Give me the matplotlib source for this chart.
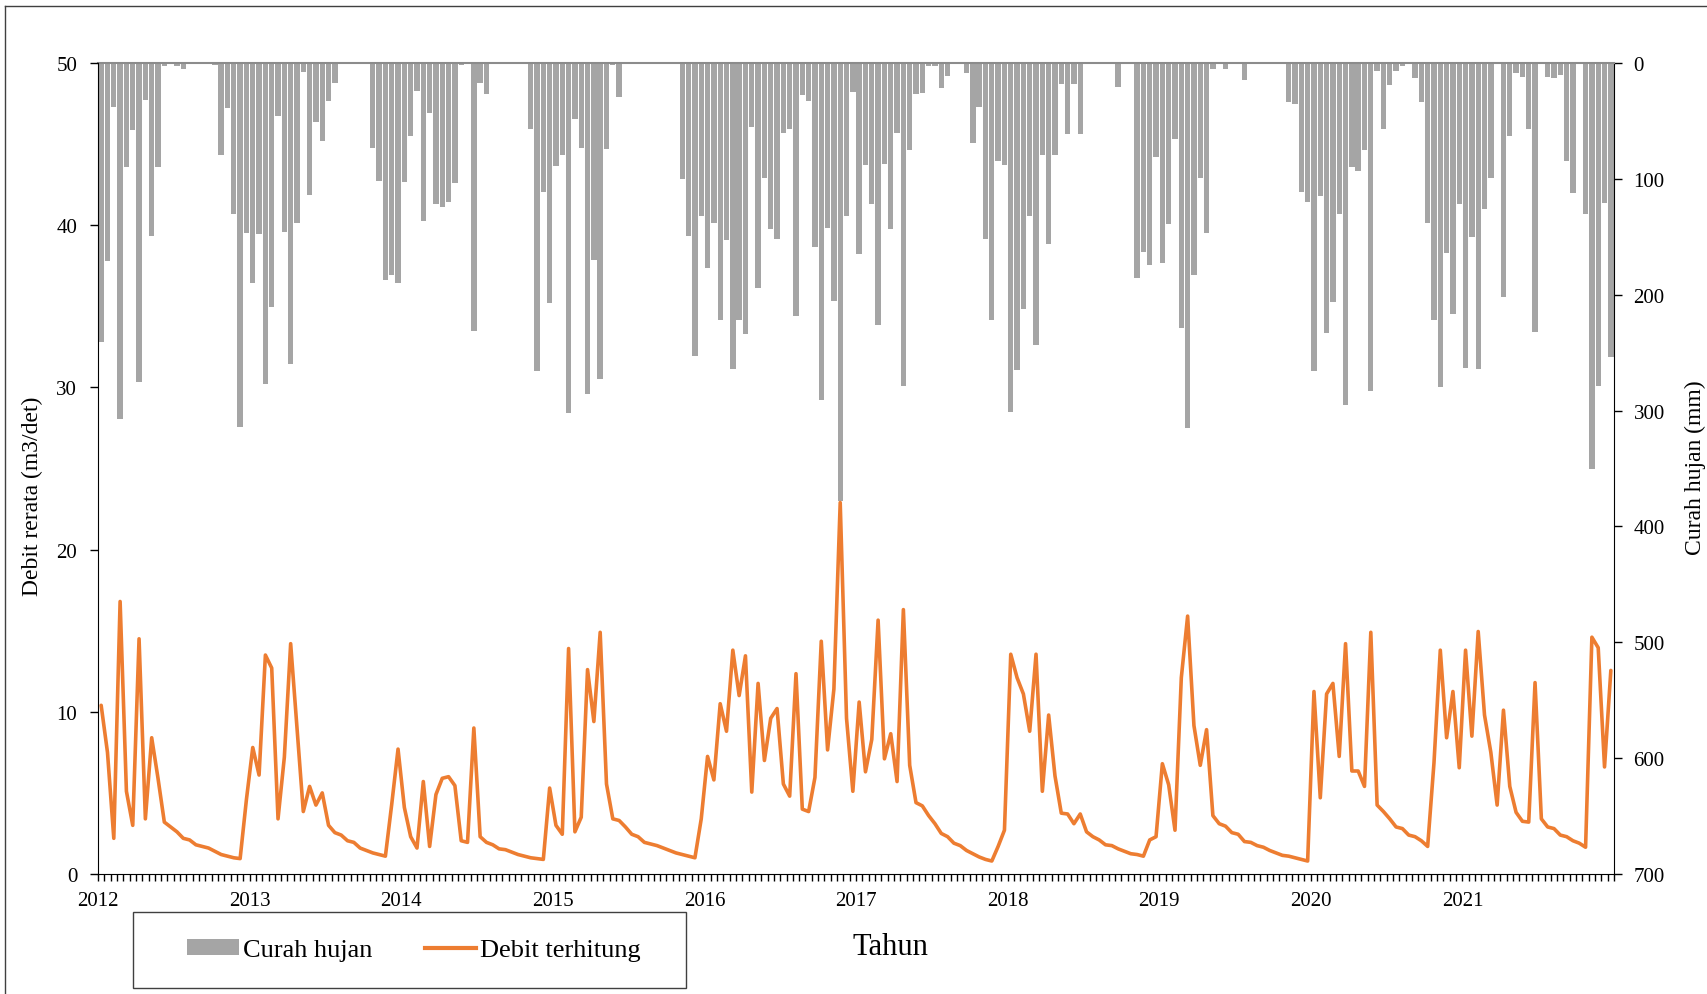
import matplotlib
matplotlib.use('Agg')
import matplotlib.pyplot as plt
import numpy as np
from matplotlib.patches import Rectangle, Patch
from matplotlib.lines import Line2D

plt.rcParams['font.family'] = ['Liberation Serif', 'DejaVu Serif']

years = ['2012', '2013', '2014', '2015', '2016', '2017', '2018', '2019', '2020', '2021']

# semi-monthly rainfall (mm), 24 values per year
rain_mm = [
    241, 171, 38, 307, 90, 58, 275, 32, 149, 90, 3, 1, 3, 5, 1, 1, 1, 1, 2, 79, 39, 130, 314, 147,        # 2012
    190, 148, 277, 211, 46, 146, 260, 138, 8, 114, 51, 67, 33, 17, 0, 0, 0, 0, 0, 73, 102, 187, 183, 190,  # 2013
    103, 63, 24, 136, 43, 122, 124, 120, 104, 2, 1, 231, 17, 27, 0, 0, 0, 0, 0, 0, 57, 266, 111, 207,      # 2014
    89, 79, 302, 48, 73, 286, 170, 273, 74, 2, 29, 0, 0, 0, 0, 0, 0, 0, 0, 0, 100, 149, 253, 132,          # 2015
    177, 138, 222, 153, 264, 222, 234, 55, 194, 99, 143, 152, 60, 57, 218, 28, 33, 159, 291, 142, 205, 378, 132, 25,  # 2016
    165, 88, 122, 226, 87, 143, 60, 279, 75, 27, 26, 3, 3, 22, 11, 0, 0, 9, 69, 38, 152, 222, 85, 88,      # 2017
    301, 265, 212, 132, 243, 79, 156, 79, 18, 61, 18, 61, 0, 0, 0, 0, 0, 21, 1, 1, 186, 163, 174, 81,     # 2018
    173, 139, 66, 229, 315, 183, 99, 147, 5, 1, 5, 1, 1, 15, 0, 0, 0, 0, 0, 0, 34, 35, 111, 120,          # 2019
    266, 115, 233, 206, 130, 295, 90, 93, 75, 283, 7, 57, 19, 7, 3, 0, 13, 34, 138, 222, 280, 164, 217, 122,  # 2020
    263, 150, 264, 126, 99, 0, 202, 63, 9, 12, 57, 232, 0, 12, 13, 10, 85, 112, 0, 130, 350, 279, 121, 254,   # 2021
]

# semi-monthly computed discharge (m3/det)
debit = [
    10.4, 7.5, 2.2, 16.8, 5.1, 3.0, 14.5, 3.4, 8.4, 5.9, 3.2, 2.9, 2.6, 2.2, 2.1, 1.8, 1.7, 1.6, 1.4, 1.2, 1.1, 1.0, 0.95, 4.6,
    7.8, 6.1, 13.5, 12.7, 3.4, 7.2, 14.2, 9.0, 3.85, 5.4, 4.25, 5.0, 3.0, 2.55, 2.4, 2.05, 1.95, 1.6, 1.45, 1.3, 1.2, 1.1, 4.3, 7.7,
    4.1, 2.3, 1.6, 5.7, 1.7, 4.9, 5.9, 6.0, 5.45, 2.05, 1.95, 9.0, 2.3, 1.95, 1.8, 1.55, 1.5, 1.35, 1.2, 1.1, 1.0, 0.95, 0.9, 5.3,
    3.0, 2.45, 13.9, 2.6, 3.5, 12.6, 9.4, 14.9, 5.55, 3.4, 3.3, 2.9, 2.45, 2.3, 1.95, 1.85, 1.75, 1.6, 1.45, 1.3, 1.2, 1.1, 1.0, 3.4,
    7.25, 5.8, 10.5, 8.8, 13.8, 11.0, 13.45, 5.05, 11.75, 7.0, 9.6, 10.2, 5.55, 4.8, 12.35, 4.0, 3.85, 5.95, 14.35, 7.65, 11.4, 22.9, 9.6, 5.1,
    10.6, 6.3, 8.3, 15.65, 7.1, 8.65, 5.7, 16.3, 6.7, 4.4, 4.2, 3.6, 3.1, 2.5, 2.3, 1.9, 1.75, 1.45, 1.25, 1.05, 0.9, 0.8, 1.7, 2.7,
    13.55, 12.1, 11.1, 8.8, 13.55, 5.1, 9.8, 6.05, 3.75, 3.7, 3.1, 3.7, 2.6, 2.3, 2.1, 1.8, 1.75, 1.55, 1.4, 1.25, 1.2, 1.1, 2.1, 2.3,
    6.8, 5.5, 2.7, 12.1, 15.9, 9.15, 6.7, 8.9, 3.6, 3.1, 2.95, 2.55, 2.45, 2.0, 1.95, 1.75, 1.65, 1.45, 1.3, 1.15, 1.1, 1.0, 0.9, 0.8,
    11.25, 4.7, 11.1, 11.75, 7.25, 14.2, 6.35, 6.35, 5.4, 14.9, 4.25, 3.85, 3.4, 2.9, 2.8, 2.4, 2.3, 2.05, 1.7, 6.85, 13.8, 8.4, 11.25, 6.55,
    13.8, 8.5, 14.95, 9.8, 7.5, 4.25, 10.1, 5.4, 3.8, 3.25, 3.2, 11.8, 3.4, 2.9, 2.8, 2.4, 2.3, 2.05, 1.9, 1.65, 14.6, 13.95, 6.6, 12.55,
]

BAR_COLOR = '#A5A5A5'
LINE_COLOR = '#ED7D31'

n = len(rain_mm)
x = np.arange(n)
per_year = n // len(years)

W, H = 1708, 995
fig = plt.figure(figsize=(W / 100, H / 100), dpi=100)
ax = fig.add_axes([98 / W, 1 - 875 / H, (1614 - 98) / W, (875 - 64) / H])
ax2 = ax.twinx()

ax2.bar(x, rain_mm, width=0.85, color=BAR_COLOR, linewidth=0)
ax2.set_ylim(700, 0)
ax2.set_yticks(np.arange(0, 701, 100))

ax.plot(x, debit, color=LINE_COLOR, lw=2.6, solid_joinstyle='round', solid_capstyle='round')
ax.set_ylim(0, 50)
ax.set_yticks(np.arange(0, 51, 10))
ax.set_xlim(-0.5, n - 0.5)
ax.set_xticks([-0.5 + per_year * k for k in range(len(years))])
ax.set_xticklabels(years)
ax.set_xticks(np.arange(-0.5, n, 1), minor=True)

ax.set_zorder(ax2.get_zorder() + 1)
ax.patch.set_visible(False)

for s in ['top', 'right']:
    ax.spines[s].set_visible(False)
for s in ['left', 'bottom']:
    ax2.spines[s].set_visible(False)
ax.spines['left'].set_color('black')
ax.spines['bottom'].set_color('black')
ax2.spines['right'].set_color('black')
ax2.spines['top'].set_color('#8C8C8C')
ax2.spines['top'].set_linewidth(1.5)

ax.tick_params(axis='y', direction='out', length=6, width=1, labelsize=15, pad=9)
ax2.tick_params(axis='y', direction='out', length=6, width=1, labelsize=15, pad=8)
ax.tick_params(axis='x', which='both', direction='out', length=5, width=1, labelsize=15, pad=7)

fig.text(32 / W, 1 - 496 / H, 'Debit rerata (m3/det)', rotation=90, ha='center', va='center', fontsize=17)
fig.text(1695 / W, 1 - 468 / H, 'Curah hujan (mm)', rotation=90, ha='center', va='center', fontsize=17)
fig.text(890 / W, 1 - 948 / H, 'Tahun', ha='center', va='center', fontsize=22)

# legend box
fig.patches.append(Rectangle((133 / W, 1 - 989 / H), 553 / W, 76 / H, transform=fig.transFigure,
                             fill=False, edgecolor='#404040', lw=1))
handles = [Patch(facecolor=BAR_COLOR, edgecolor='none', label='Curah hujan'),
           Line2D([], [], color=LINE_COLOR, lw=3, label='Debit terhitung')]
fig.legend(handles=handles, ncol=2, loc='center', bbox_to_anchor=(414 / W, 1 - 951 / H),
           frameon=False, fontsize=19, handlelength=1.95, handleheight=0.55,
           handletextpad=0.15, columnspacing=2.0)

# outer chart border
fig.add_artist(Line2D([5 / W, 5 / W], [0, 1 - 7 / H], transform=fig.transFigure, color='#404040', lw=1))
fig.add_artist(Line2D([5 / W, 1], [1 - 7 / H, 1 - 7 / H], transform=fig.transFigure, color='#404040', lw=1))

fig.savefig('out.png', dpi=100)
